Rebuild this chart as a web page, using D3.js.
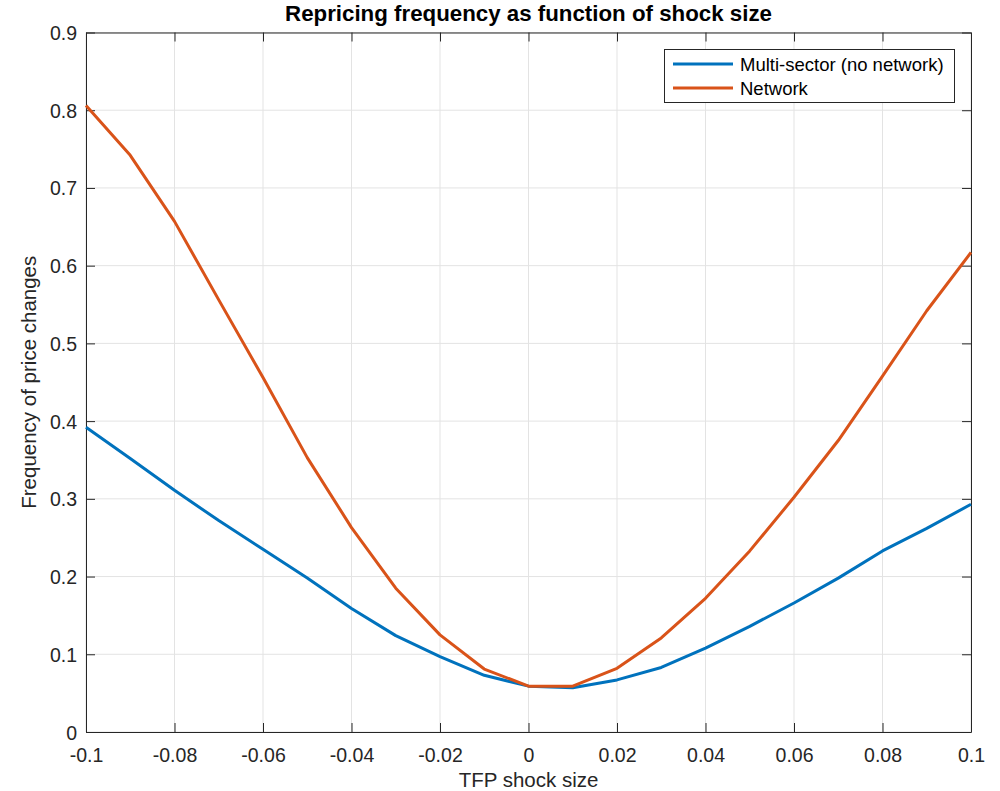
<!DOCTYPE html>
<html>
<head>
<meta charset="utf-8">
<script src="https://cdn.jsdelivr.net/npm/d3@7"></script>
<style>
    body { margin: 0; background: #fff; }
    svg { font-family: "Liberation Sans", Arial, sans-serif; }
</style>
</head>
<body>
<script>
const shockSize = [-0.1, -0.09, -0.08, -0.07, -0.06, -0.05, -0.04, -0.03, -0.02, -0.01, 0,
    0.01, 0.02, 0.03, 0.04, 0.05, 0.06, 0.07, 0.08, 0.09, 0.1];
const multiSector = [0.392, 0.352, 0.311, 0.272, 0.235, 0.198, 0.159, 0.124, 0.097, 0.073, 0.059,
    0.057, 0.067, 0.083, 0.108, 0.136, 0.166, 0.198, 0.233, 0.262, 0.293];
const network = [0.806, 0.742, 0.657, 0.556, 0.456, 0.353, 0.263, 0.185, 0.125, 0.081, 0.059,
    0.059, 0.082, 0.121, 0.172, 0.233, 0.302, 0.375, 0.458, 0.542, 0.617];
const xTicks = [-0.1, -0.08, -0.06, -0.04, -0.02, 0, 0.02, 0.04, 0.06, 0.08, 0.1];
const xTickLabels = ["-0.1", "-0.08", "-0.06", "-0.04", "-0.02", "0", "0.02", "0.04", "0.06", "0.08", "0.1"];
const yTicks = [0, 0.1, 0.2, 0.3, 0.4, 0.5, 0.6, 0.7, 0.8, 0.9];
const yTickLabels = ["0", "0.1", "0.2", "0.3", "0.4", "0.5", "0.6", "0.7", "0.8", "0.9"];
const seriesNames = ["Multi-sector (no network)", "Network"];
const seriesColors = ["#0072BD", "#D95319"];

const config = {
    width: 1000,
    height: 791,
    left: 86,
    right: 971,
    top: 32.5,
    bottom: 732,
    ink: "#262626"
};

const svg = d3.select("body").append("svg")
    .attr("width", config.width)
    .attr("height", config.height);

const x = d3.scaleLinear().domain([-0.1, 0.1]).range([config.left, config.right]);
const y = d3.scaleLinear().domain([0, 0.9]).range([config.bottom, config.top]);

// grid
svg.append("g")
    .selectAll("line.vg")
    .data(xTicks)
    .enter().append("line")
    .attr("x1", d => x(d)).attr("x2", d => x(d))
    .attr("y1", config.top).attr("y2", config.bottom)
    .style("stroke", "#e3e3e3").style("stroke-width", 1);

svg.append("g")
    .selectAll("line.hg")
    .data(yTicks)
    .enter().append("line")
    .attr("x1", config.left).attr("x2", config.right)
    .attr("y1", d => y(d)).attr("y2", d => y(d))
    .style("stroke", "#e3e3e3").style("stroke-width", 1);

// axes, ticks pointing inward
const fmtX = d => xTickLabels[xTicks.indexOf(d)];
const fmtY = d => yTickLabels[yTicks.indexOf(d)];

const axes = [
    { axis: d3.axisBottom(x).tickValues(xTicks).tickFormat(fmtX), t: `translate(0,${config.bottom})`, labels: true },
    { axis: d3.axisTop(x).tickValues(xTicks).tickFormat(""), t: `translate(0,${config.top})`, labels: false },
    { axis: d3.axisLeft(y).tickValues(yTicks).tickFormat(fmtY), t: `translate(${config.left},0)`, labels: true },
    { axis: d3.axisRight(y).tickValues(yTicks).tickFormat(""), t: `translate(${config.right},0)`, labels: false }
];

axes.forEach(a => {
    const g = svg.append("g")
        .attr("transform", a.t)
        .call(a.axis.tickSizeInner(-9).tickSizeOuter(0).tickPadding(17));
    g.select(".domain").style("stroke", config.ink).style("stroke-width", 1);
    g.selectAll(".tick line").style("stroke", config.ink).style("stroke-width", 1);
    g.selectAll(".tick text")
        .style("fill", config.ink)
        .style("font-size", "19.5px")
        .style("font-family", '"Liberation Sans", Arial, sans-serif');
});

// tick label fine placement
svg.selectAll("g").filter(function () {
    return this.getAttribute("transform") === `translate(0,${config.bottom})`;
}).selectAll(".tick text").attr("y", 16).attr("dy", "0.71em");
svg.selectAll("g").filter(function () {
    return this.getAttribute("transform") === `translate(${config.left},0)`;
}).selectAll(".tick text").attr("x", -9).attr("dy", "0.36em");

// lines
const lineGen = d3.line()
    .x(d => x(d[0]))
    .y(d => y(d[1]));

[multiSector, network].forEach((series, i) => {
    svg.append("path")
        .datum(shockSize.map((s, j) => [s, series[j]]))
        .attr("d", lineGen)
        .style("fill", "none")
        .style("stroke", seriesColors[i])
        .style("stroke-width", 3)
        .style("stroke-linejoin", "round");
});

// titles
svg.append("text")
    .attr("x", (config.left + config.right) / 2)
    .attr("y", 21)
    .attr("text-anchor", "middle")
    .style("font-size", "22.3px")
    .style("font-weight", "bold")
    .style("fill", "#000")
    .text("Repricing frequency as function of shock size");

svg.append("text")
    .attr("x", (config.left + config.right) / 2)
    .attr("y", 787)
    .attr("text-anchor", "middle")
    .style("font-size", "20.5px")
    .style("fill", config.ink)
    .text("TFP shock size");

svg.append("text")
    .attr("transform", `translate(36,${(config.top + config.bottom) / 2}) rotate(-90)`)
    .attr("text-anchor", "middle")
    .style("font-size", "20.5px")
    .style("fill", config.ink)
    .text("Frequency of price changes");

// legend
const legend = svg.append("g");
legend.append("rect")
    .attr("x", 664.5).attr("y", 49.5)
    .attr("width", 290).attr("height", 53)
    .style("fill", "#fff")
    .style("stroke", config.ink)
    .style("stroke-width", 1);

seriesNames.forEach((name, i) => {
    const ly = 64 + i * 24;
    legend.append("line")
        .attr("x1", 673).attr("x2", 733)
        .attr("y1", ly).attr("y2", ly)
        .style("stroke", seriesColors[i])
        .style("stroke-width", 3);
    legend.append("text")
        .attr("x", 740)
        .attr("y", ly + 7)
        .style("font-size", "18.5px")
        .style("fill", "#000")
        .text(name);
});
</script>
</body>
</html>
